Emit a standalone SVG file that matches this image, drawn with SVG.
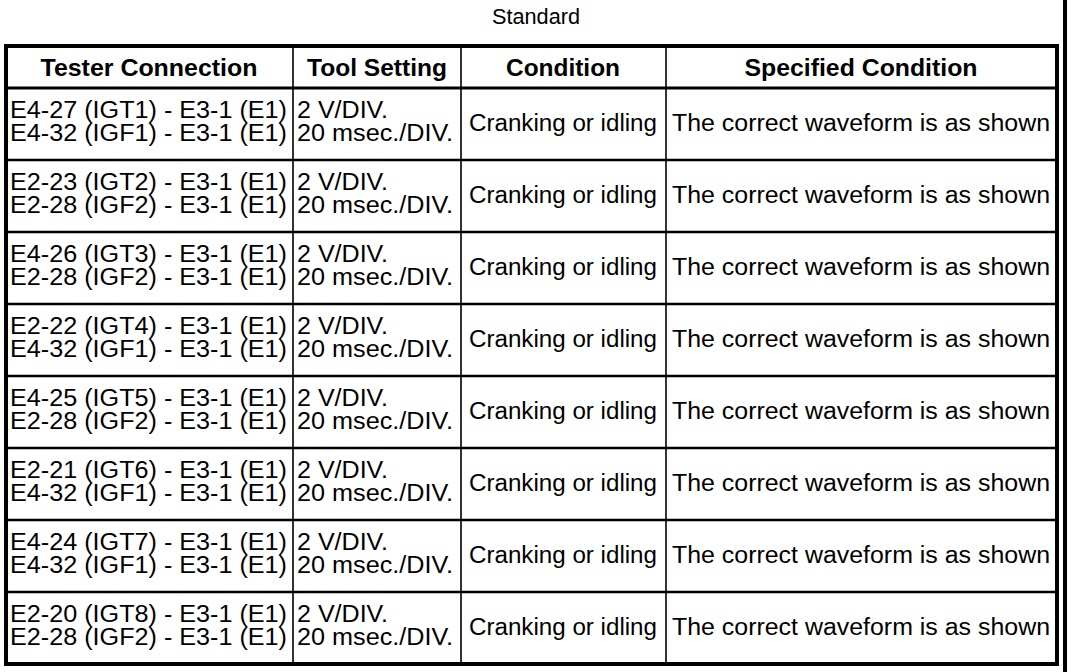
<svg xmlns="http://www.w3.org/2000/svg" width="1072" height="672" viewBox="0 0 1072 672">
<style>
text{font-family:"Liberation Sans",Arial,Helvetica,sans-serif;font-size:23px;fill:#000}
.h{font-weight:bold;text-anchor:middle}
.c{text-anchor:middle}
.t{font-size:21.5px;text-anchor:middle}
.outer{fill:none;stroke:#000;stroke-width:4}
.hl{stroke:#000;stroke-width:3}
.rl{stroke:#000;stroke-width:2.5}
.cl{stroke:#000;stroke-width:1.6}
</style>
<rect width="1072" height="672" fill="#fff"/>
<line x1="1065" y1="0" x2="1065" y2="672" stroke="#000" stroke-width="4"/>
<text class="t" x="536" y="24" textLength="88" lengthAdjust="spacingAndGlyphs">Standard</text>
<g id="grid">
<rect class="outer" x="6" y="46" width="1051" height="618"/>
<line class="hl" x1="6" y1="88" x2="1057" y2="88"/>
<line class="rl" x1="6" y1="160" x2="1057" y2="160"/>
<line class="rl" x1="6" y1="232" x2="1057" y2="232"/>
<line class="rl" x1="6" y1="304" x2="1057" y2="304"/>
<line class="rl" x1="6" y1="376" x2="1057" y2="376"/>
<line class="rl" x1="6" y1="448" x2="1057" y2="448"/>
<line class="rl" x1="6" y1="520" x2="1057" y2="520"/>
<line class="rl" x1="6" y1="592" x2="1057" y2="592"/>
<line class="cl" x1="293" y1="46" x2="293" y2="664"/>
<line class="cl" x1="461" y1="46" x2="461" y2="664"/>
<line class="cl" x1="666" y1="46" x2="666" y2="664"/>
</g>
<g id="header">
<text class="h" x="149" y="75.5" textLength="217" lengthAdjust="spacingAndGlyphs">Tester Connection</text>
<text class="h" x="377" y="75.5" textLength="140" lengthAdjust="spacingAndGlyphs">Tool Setting</text>
<text class="h" x="563" y="75.5" textLength="114" lengthAdjust="spacingAndGlyphs">Condition</text>
<text class="h" x="861" y="75.5" textLength="233" lengthAdjust="spacingAndGlyphs">Specified Condition</text>
</g>
<g id="row1">
<text><tspan x="10" y="117.5" textLength="277" lengthAdjust="spacingAndGlyphs">E4-27 (IGT1) - E3-1 (E1)</tspan><tspan x="10" y="140.5" textLength="277" lengthAdjust="spacingAndGlyphs">E4-32 (IGF1) - E3-1 (E1)</tspan></text>
<text><tspan x="297" y="117.5" textLength="91" lengthAdjust="spacingAndGlyphs">2 V/DIV.</tspan><tspan x="297" y="140.5" textLength="156" lengthAdjust="spacingAndGlyphs">20 msec./DIV.</tspan></text>
<text class="c" x="563" y="131" textLength="188" lengthAdjust="spacingAndGlyphs">Cranking or idling</text>
<text class="c" x="861" y="131" textLength="378" lengthAdjust="spacingAndGlyphs">The correct waveform is as shown</text>
</g>
<g id="row2">
<text><tspan x="10" y="189.5" textLength="277" lengthAdjust="spacingAndGlyphs">E2-23 (IGT2) - E3-1 (E1)</tspan><tspan x="10" y="212.5" textLength="277" lengthAdjust="spacingAndGlyphs">E2-28 (IGF2) - E3-1 (E1)</tspan></text>
<text><tspan x="297" y="189.5" textLength="91" lengthAdjust="spacingAndGlyphs">2 V/DIV.</tspan><tspan x="297" y="212.5" textLength="156" lengthAdjust="spacingAndGlyphs">20 msec./DIV.</tspan></text>
<text class="c" x="563" y="203" textLength="188" lengthAdjust="spacingAndGlyphs">Cranking or idling</text>
<text class="c" x="861" y="203" textLength="378" lengthAdjust="spacingAndGlyphs">The correct waveform is as shown</text>
</g>
<g id="row3">
<text><tspan x="10" y="261.5" textLength="277" lengthAdjust="spacingAndGlyphs">E4-26 (IGT3) - E3-1 (E1)</tspan><tspan x="10" y="284.5" textLength="277" lengthAdjust="spacingAndGlyphs">E2-28 (IGF2) - E3-1 (E1)</tspan></text>
<text><tspan x="297" y="261.5" textLength="91" lengthAdjust="spacingAndGlyphs">2 V/DIV.</tspan><tspan x="297" y="284.5" textLength="156" lengthAdjust="spacingAndGlyphs">20 msec./DIV.</tspan></text>
<text class="c" x="563" y="275" textLength="188" lengthAdjust="spacingAndGlyphs">Cranking or idling</text>
<text class="c" x="861" y="275" textLength="378" lengthAdjust="spacingAndGlyphs">The correct waveform is as shown</text>
</g>
<g id="row4">
<text><tspan x="10" y="333.5" textLength="277" lengthAdjust="spacingAndGlyphs">E2-22 (IGT4) - E3-1 (E1)</tspan><tspan x="10" y="356.5" textLength="277" lengthAdjust="spacingAndGlyphs">E4-32 (IGF1) - E3-1 (E1)</tspan></text>
<text><tspan x="297" y="333.5" textLength="91" lengthAdjust="spacingAndGlyphs">2 V/DIV.</tspan><tspan x="297" y="356.5" textLength="156" lengthAdjust="spacingAndGlyphs">20 msec./DIV.</tspan></text>
<text class="c" x="563" y="347" textLength="188" lengthAdjust="spacingAndGlyphs">Cranking or idling</text>
<text class="c" x="861" y="347" textLength="378" lengthAdjust="spacingAndGlyphs">The correct waveform is as shown</text>
</g>
<g id="row5">
<text><tspan x="10" y="405.5" textLength="277" lengthAdjust="spacingAndGlyphs">E4-25 (IGT5) - E3-1 (E1)</tspan><tspan x="10" y="428.5" textLength="277" lengthAdjust="spacingAndGlyphs">E2-28 (IGF2) - E3-1 (E1)</tspan></text>
<text><tspan x="297" y="405.5" textLength="91" lengthAdjust="spacingAndGlyphs">2 V/DIV.</tspan><tspan x="297" y="428.5" textLength="156" lengthAdjust="spacingAndGlyphs">20 msec./DIV.</tspan></text>
<text class="c" x="563" y="419" textLength="188" lengthAdjust="spacingAndGlyphs">Cranking or idling</text>
<text class="c" x="861" y="419" textLength="378" lengthAdjust="spacingAndGlyphs">The correct waveform is as shown</text>
</g>
<g id="row6">
<text><tspan x="10" y="477.5" textLength="277" lengthAdjust="spacingAndGlyphs">E2-21 (IGT6) - E3-1 (E1)</tspan><tspan x="10" y="500.5" textLength="277" lengthAdjust="spacingAndGlyphs">E4-32 (IGF1) - E3-1 (E1)</tspan></text>
<text><tspan x="297" y="477.5" textLength="91" lengthAdjust="spacingAndGlyphs">2 V/DIV.</tspan><tspan x="297" y="500.5" textLength="156" lengthAdjust="spacingAndGlyphs">20 msec./DIV.</tspan></text>
<text class="c" x="563" y="491" textLength="188" lengthAdjust="spacingAndGlyphs">Cranking or idling</text>
<text class="c" x="861" y="491" textLength="378" lengthAdjust="spacingAndGlyphs">The correct waveform is as shown</text>
</g>
<g id="row7">
<text><tspan x="10" y="549.5" textLength="277" lengthAdjust="spacingAndGlyphs">E4-24 (IGT7) - E3-1 (E1)</tspan><tspan x="10" y="572.5" textLength="277" lengthAdjust="spacingAndGlyphs">E4-32 (IGF1) - E3-1 (E1)</tspan></text>
<text><tspan x="297" y="549.5" textLength="91" lengthAdjust="spacingAndGlyphs">2 V/DIV.</tspan><tspan x="297" y="572.5" textLength="156" lengthAdjust="spacingAndGlyphs">20 msec./DIV.</tspan></text>
<text class="c" x="563" y="563" textLength="188" lengthAdjust="spacingAndGlyphs">Cranking or idling</text>
<text class="c" x="861" y="563" textLength="378" lengthAdjust="spacingAndGlyphs">The correct waveform is as shown</text>
</g>
<g id="row8">
<text><tspan x="10" y="621.5" textLength="277" lengthAdjust="spacingAndGlyphs">E2-20 (IGT8) - E3-1 (E1)</tspan><tspan x="10" y="644.5" textLength="277" lengthAdjust="spacingAndGlyphs">E2-28 (IGF2) - E3-1 (E1)</tspan></text>
<text><tspan x="297" y="621.5" textLength="91" lengthAdjust="spacingAndGlyphs">2 V/DIV.</tspan><tspan x="297" y="644.5" textLength="156" lengthAdjust="spacingAndGlyphs">20 msec./DIV.</tspan></text>
<text class="c" x="563" y="635" textLength="188" lengthAdjust="spacingAndGlyphs">Cranking or idling</text>
<text class="c" x="861" y="635" textLength="378" lengthAdjust="spacingAndGlyphs">The correct waveform is as shown</text>
</g>
</svg>
